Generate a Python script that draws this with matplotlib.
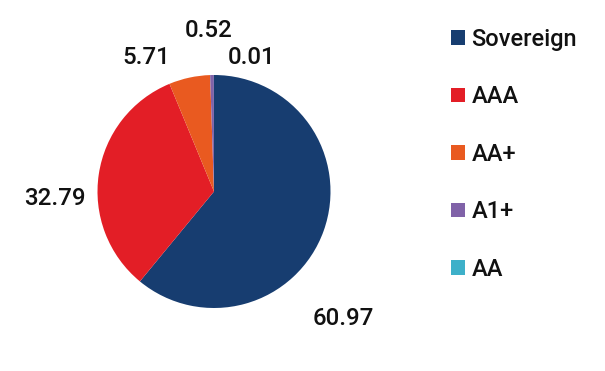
import matplotlib
matplotlib.use("Agg")
import matplotlib.pyplot as plt

categories = ["Sovereign", "AAA", "AA+", "A1+", "AA"]
values = [60.97, 32.79, 5.71, 0.52, 0.01]
value_labels = ["60.97", "32.79", "5.71", "0.52", "0.01"]
colors = ["#173d70", "#e31e26", "#e95a20", "#8062a8", "#3db0c9"]
# label positions (relative to pie centre, in pie radii)
label_pos = [(1.107, -1.090), (-1.369, -0.056), (-0.584, 1.150), (-0.045, 1.382), (0.324, 1.150)]

plt.rcParams['font.family'] = ['Roboto', 'DejaVu Sans']

W, H = 605, 371
fig = plt.figure(figsize=(W / 100, H / 100), dpi=100)
cx, cy, r = 214, 191.5, 116.5
ax = fig.add_axes([(cx - r) / W, (H - cy - r) / H, 2 * r / W, 2 * r / H])
wedges, _ = ax.pie(values, colors=colors, startangle=90, counterclock=False,
                   radius=1, wedgeprops=dict(linewidth=0))
ax.set_xlim(-1, 1)
ax.set_ylim(-1, 1)
ax.set_aspect('equal')
ax.axis('off')

for txt, (x, y) in zip(value_labels, label_pos):
    ax.text(x, y, txt, ha='center', va='center', fontsize=17.3, fontweight='medium',
            color='#111111', clip_on=False)

leg = fig.legend(wedges, categories, loc='upper left', bbox_to_anchor=(451 / W, 1 - 28 / H),
                 frameon=False, prop=dict(size=17, weight='medium'),
                 handlelength=0.58, handleheight=0.58,
                 handletextpad=0.28, labelspacing=1.46, borderaxespad=0, borderpad=0)
for t in leg.get_texts():
    t.set_color('#111111')

fig.savefig("out.png", dpi=100)
